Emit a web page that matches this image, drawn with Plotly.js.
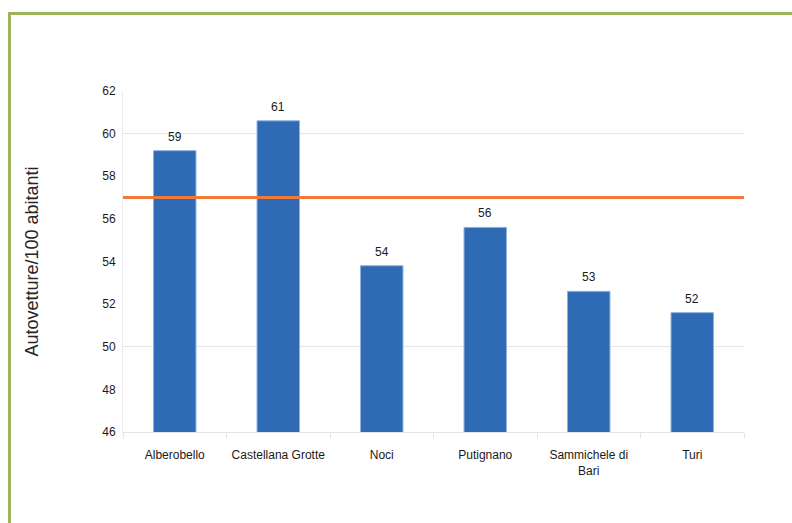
<!DOCTYPE html>
<html>
<head>
<meta charset="utf-8">
<script src="https://cdn.plot.ly/plotly-3.0.1.min.js"></script>
<style>
  html, body { margin: 0; padding: 0; background: #ffffff; }
  #wrap { position: relative; width: 792px; height: 523px; overflow: hidden; }
  /* green frame, open on the right and bottom */
  #frame {
    position: absolute; left: 8px; top: 12px; width: 900px; height: 700px;
    border-left: 3px solid #9db35e; border-top: 3px solid #9db35e;
    box-sizing: border-box;
  }
  #chart { position: absolute; left: 0; top: 0; width: 792px; height: 523px; }
</style>
</head>
<body>
<div id="wrap">
  <div id="frame"></div>
  <div id="chart"></div>
</div>
<script>
// Comuni and autovetture per 100 abitanti
const comuni = ['Alberobello', 'Castellana Grotte', 'Noci', 'Putignano', 'Sammichele di<br>Bari', 'Turi'];
const autovetture = [59.2, 60.6, 53.8, 55.6, 52.6, 51.6];
// reference level drawn as a horizontal line across the plot
const mediaRiferimento = 57.0;
// y axis
const yRange = [46, 62];
const yTitle = 'Autovetture/100 abitanti';

const FONT = 'Liberation Sans, Arial, sans-serif';

const bars = {
  type: 'bar',
  x: comuni,
  y: autovetture,
  width: 0.41,
  marker: { color: '#2e6bb4', line: { color: '#8fb0de', width: 1 } },
  hoverinfo: 'x+y',
  showlegend: false
};

// value labels above each bar, rounded to whole numbers
const valueLabels = comuni.map((c, i) => ({
  x: c, y: autovetture[i], xref: 'x', yref: 'y',
  text: autovetture[i].toFixed(0),
  showarrow: false, yanchor: 'bottom', yshift: 5,
  font: { family: FONT, size: 12, color: '#1a1a1a' }
}));

const layout = {
  width: 792, height: 523,
  margin: { l: 123, r: 48, t: 91, b: 91 },
  paper_bgcolor: 'rgba(0,0,0,0)',
  plot_bgcolor: 'rgba(0,0,0,0)',
  font: { family: FONT, size: 12, color: '#1a1a1a' },
  xaxis: {
    type: 'category',
    showgrid: false,
    showline: true, linecolor: '#e3e3e3', linewidth: 1,
    ticks: 'outside', tickson: 'boundaries', ticklen: 5, tickcolor: '#e3e3e3',
    ticklabelstandoff: 12,
    tickfont: { family: FONT, size: 12, color: '#1a1a1a' },
    fixedrange: true
  },
  yaxis: {
    range: yRange, dtick: 2, tick0: 46,
    showgrid: false, zeroline: false,
    showline: true, linecolor: '#ececec', linewidth: 1,
    ticks: '', ticklabelstandoff: 4,
    tickfont: { family: FONT, size: 12, color: '#1a1a1a' },
    title: { text: yTitle, font: { family: FONT, size: 18, color: '#262626' }, standoff: 58 },
    fixedrange: true
  },
  // gridlines every 10 units on an overlaid axis with the same range
  yaxis2: {
    overlaying: 'y', side: 'left', range: yRange, tick0: 50, dtick: 10,
    showgrid: true, gridcolor: '#e6e6e6', gridwidth: 1,
    showticklabels: false, zeroline: false, showline: false, fixedrange: true
  },
  shapes: [{
    type: 'line', xref: 'paper', yref: 'y',
    x0: 0, x1: 1, y0: mediaRiferimento, y1: mediaRiferimento,
    line: { color: '#f07a3a', width: 3 }, layer: 'above'
  }],
  annotations: valueLabels,
  bargap: 0.59
};

// invisible helper trace so the gridline axis is rendered
const gridHelper = { type: 'scatter', x: [comuni[0]], y: [yRange[0]], yaxis: 'y2', mode: 'markers',
  marker: { opacity: 0 }, hoverinfo: 'skip', showlegend: false };

Plotly.newPlot('chart', [gridHelper, bars], layout, { displayModeBar: false, staticPlot: true });
</script>
</body>
</html>
